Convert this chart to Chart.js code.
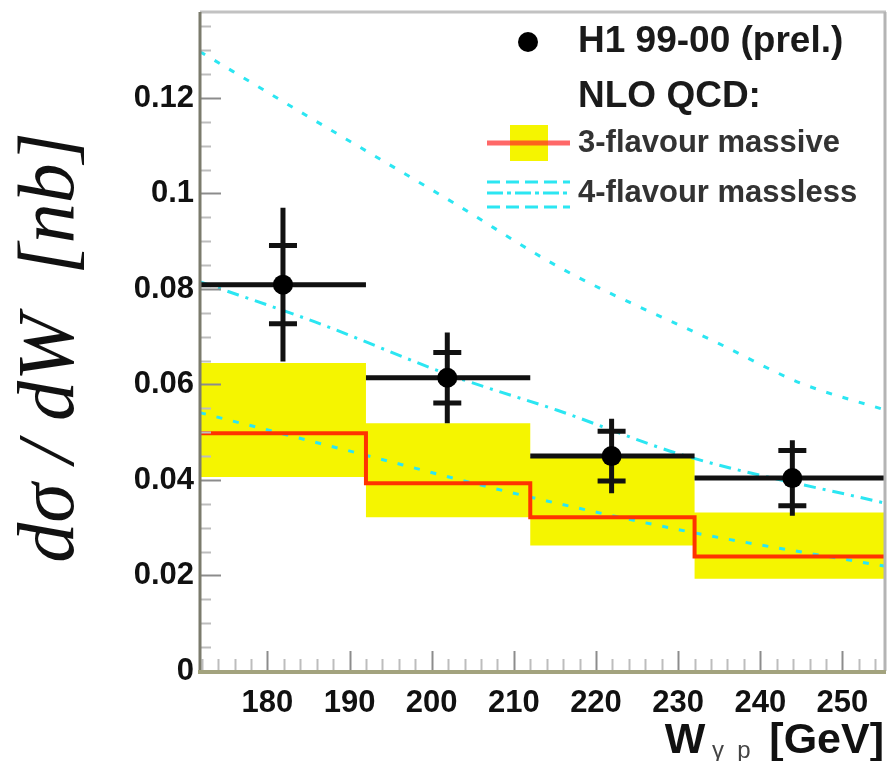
<!DOCTYPE html>
<html>
<head>
<meta charset="utf-8">
<script src="https://cdn.jsdelivr.net/npm/chart.js@4.4.1/dist/chart.umd.min.js"></script>
<style>
    html, body { margin: 0; padding: 0; background: #fff; }
    #wrap { width: 888px; height: 761px; position: relative; }
</style>
</head>
<body>
<div id="wrap"><canvas id="xsec-chart"></canvas></div>
<script>
'use strict';

// W_gamma_p bin edges [GeV] (first / last = axis range)
const bin_edges = [171.8, 192, 212, 232, 255.3];

// H1 99-00 (prel.)
const data_w = [181.9, 201.9, 221.9, 243.9];
const data_xsec = [0.0809, 0.0614, 0.0450, 0.0404];
const data_stat_err = [0.0082, 0.0053, 0.0052, 0.0058];
const data_tot_err = [0.0161, 0.0095, 0.0078, 0.0079];

// NLO QCD 3-flavour massive: central value and band, one per bin
const massive_central = [0.0498, 0.0393, 0.0322, 0.0240];
const massive_high = [0.0645, 0.0519, 0.0448, 0.0332];
const massive_low = [0.0406, 0.0322, 0.0263, 0.0193];

// NLO QCD 4-flavour massless: three curves
const massless_upper_w = [171.8, 184.0, 202.6, 216.0, 234.8, 244.9, 255.3];
const massless_upper = [0.1297, 0.1171, 0.0981, 0.0841, 0.0687, 0.0603, 0.0546];
const massless_mid_w = [171.8, 185.8, 202.5, 215.3, 230.6, 255.3];
const massless_mid = [0.0815, 0.0731, 0.0618, 0.0546, 0.0452, 0.0351];
const massless_low_w = [171.8, 189.7, 209.6, 231.8, 255.3];
const massless_low = [0.0541, 0.0462, 0.0374, 0.0290, 0.0219];

const x_tick_values = [180, 190, 200, 210, 220, 230, 240, 250];
const y_tick_values = [0, 0.02, 0.04, 0.06, 0.08, 0.1, 0.12];
const y_max = 0.138;

const legend_labels = ['H1 99-00 (prel.)', 'NLO QCD:', '3-flavour massive', '4-flavour massless'];

const CYAN = '#2be6f2';
const YELLOW = '#f5f500';
const RED = '#ff3300';

function step_points(values) {
    return bin_edges.map((edge, i) => ({ x: edge, y: values[Math.min(i, values.length - 1)] }));
}

function curve_points(ws, vals) {
    return ws.map((w, i) => ({ x: w, y: vals[i] }));
}

const frame_plugin = {
    id: 'frame_and_ticks',
    afterDatasetsDraw(chart) {
        const { ctx, chartArea: a, scales: { x, y } } = chart;
        ctx.save();

        // error bars for the data
        ctx.strokeStyle = '#111';
        ctx.lineWidth = 5;
        data_w.forEach((w, i) => {
            const px = x.getPixelForValue(w);
            const py = y.getPixelForValue(data_xsec[i]);
            const x_lo = x.getPixelForValue(bin_edges[i]);
            const x_hi = x.getPixelForValue(bin_edges[i + 1]);
            const tot_hi = y.getPixelForValue(data_xsec[i] + data_tot_err[i]);
            const tot_lo = y.getPixelForValue(data_xsec[i] - data_tot_err[i]);
            const st_hi = y.getPixelForValue(data_xsec[i] + data_stat_err[i]);
            const st_lo = y.getPixelForValue(data_xsec[i] - data_stat_err[i]);
            ctx.beginPath();
            ctx.moveTo(x_lo, py); ctx.lineTo(x_hi, py);
            ctx.moveTo(px, tot_hi); ctx.lineTo(px, tot_lo);
            ctx.moveTo(px - 14, st_hi); ctx.lineTo(px + 14, st_hi);
            ctx.moveTo(px - 14, st_lo); ctx.lineTo(px + 14, st_lo);
            ctx.stroke();
            ctx.beginPath();
            ctx.fillStyle = '#000';
            ctx.arc(px, py, 10, 0, Math.PI * 2);
            ctx.fill();
        });

        // inward ticks
        ctx.lineWidth = 2;
        for (let v = 0; v <= y_max + 1e-9; v += 0.005) {
            const major = Math.abs(v / 0.02 - Math.round(v / 0.02)) < 1e-6;
            const py = Math.round(y.getPixelForValue(v)) + 0.5;
            ctx.strokeStyle = major ? '#8c8c8c' : '#bdbdbd';
            ctx.beginPath();
            ctx.moveTo(a.left, py); ctx.lineTo(a.left + (major ? 21 : 11), py);
            ctx.stroke();
        }
        for (let v = 172; v <= 255; v += 2) {
            const major = v % 10 === 0;
            const px = Math.round(x.getPixelForValue(v)) + 0.5;
            ctx.strokeStyle = major ? '#8c8c8c' : '#bdbdbd';
            ctx.beginPath();
            ctx.moveTo(px, a.bottom); ctx.lineTo(px, a.bottom - (major ? 20 : 12));
            ctx.stroke();
        }

        // frame
        ctx.lineWidth = 3;
        ctx.strokeStyle = '#c2c2c2';
        ctx.beginPath(); ctx.moveTo(a.left, a.top); ctx.lineTo(a.right, a.top); ctx.stroke();
        ctx.strokeStyle = '#b4b4b4';
        ctx.beginPath(); ctx.moveTo(a.right - 1, a.top); ctx.lineTo(a.right - 1, a.bottom); ctx.stroke();
        ctx.strokeStyle = '#7b7b6c';
        ctx.beginPath(); ctx.moveTo(a.left, a.top); ctx.lineTo(a.left, a.bottom); ctx.stroke();
        ctx.lineWidth = 4;
        ctx.strokeStyle = '#a3a37e';
        ctx.beginPath(); ctx.moveTo(a.left - 2, a.bottom + 1); ctx.lineTo(a.right, a.bottom + 1); ctx.stroke();

        ctx.restore();
    },
    afterDraw(chart) {
        const { ctx, chartArea: a } = chart;
        ctx.save();

        // y title
        ctx.translate(73, (a.top + a.bottom) / 2 + 6);
        ctx.rotate(-Math.PI / 2);
        ctx.fillStyle = '#111';
        ctx.textAlign = 'center';
        ctx.textBaseline = 'alphabetic';
        ctx.font = 'italic 80px "Liberation Serif"';
        ctx.fillText('dσ / dW  [nb]', 0, 0);
        ctx.setTransform(1, 0, 0, 1, 0, 0);

        // x title, right aligned with the frame
        const parts = [
            { t: 'W', f: 'bold 43px "Liberation Sans"', dy: 0, c: '#111' },
            { t: ' γ  p ', f: '24px "Liberation Sans"', dy: 5, c: '#444' },
            { t: ' [GeV]', f: 'bold 43px "Liberation Sans"', dy: 0, c: '#111' }
        ];
        let total = 0;
        parts.forEach(p => { ctx.font = p.f; p.w = ctx.measureText(p.t).width; total += p.w; });
        let tx = a.right - 2 - total;
        ctx.textBaseline = 'alphabetic';
        ctx.textAlign = 'left';
        parts.forEach(p => {
            ctx.font = p.f;
            ctx.fillStyle = p.c;
            ctx.fillText(p.t, tx, 753 + p.dy);
            tx += p.w;
        });

        // legend
        const sym_l = a.right - 399;
        const sym_r = a.right - 316;
        const text_x = a.right - 308;
        const rows = [a.top + 30, a.top + 85, a.top + 131, a.top + 181];

        ctx.fillStyle = '#000';
        ctx.beginPath();
        ctx.arc(a.right - 358, rows[0], 10, 0, Math.PI * 2);
        ctx.fill();

        ctx.fillStyle = YELLOW;
        ctx.fillRect(a.right - 376, rows[2] - 18, 38, 36);
        ctx.strokeStyle = 'rgba(255, 40, 40, 0.7)';
        ctx.lineWidth = 5;
        ctx.beginPath(); ctx.moveTo(sym_l, rows[2]); ctx.lineTo(sym_r, rows[2]); ctx.stroke();

        ctx.strokeStyle = CYAN;
        ctx.lineWidth = 3;
        [[-11, [13, 6]], [0, [16, 4, 4, 4]], [14, [13, 6]]].forEach(([dy, dash]) => {
            ctx.setLineDash(dash);
            ctx.beginPath(); ctx.moveTo(sym_l, rows[3] + dy); ctx.lineTo(sym_r, rows[3] + dy); ctx.stroke();
        });
        ctx.setLineDash([]);

        ctx.textAlign = 'left';
        ctx.textBaseline = 'middle';
        ctx.fillStyle = '#1a1a1a';
        ctx.font = 'bold 37px "Liberation Sans"';
        ctx.fillText(legend_labels[0], text_x, rows[0]);
        ctx.fillText(legend_labels[1], text_x, rows[1]);
        ctx.fillStyle = '#333';
        ctx.font = 'bold 31px "Liberation Sans"';
        ctx.fillText(legend_labels[2], text_x, rows[2]);
        ctx.fillText(legend_labels[3], text_x, rows[3]);

        ctx.restore();
    }
};

const tick_font = { family: '"Liberation Sans"', size: 31, weight: 'bold' };

function no_label_padding(s) {
    s.paddingTop = 0;
    s.paddingBottom = 0;
    s.paddingLeft = 0;
    s.paddingRight = 0;
}

const config = {
    type: 'line',
    data: {
        datasets: [
            {
                label: 'H1 99-00 (prel.)',
                data: curve_points(data_w, data_xsec),
                showLine: false,
                pointRadius: 0,
                order: 1
            },
            {
                label: '3-flavour massive',
                data: step_points(massive_central),
                stepped: true,
                borderColor: RED,
                borderWidth: 4,
                pointRadius: 0,
                fill: false,
                order: 3
            },
            {
                label: '4-flavour massless upper',
                data: curve_points(massless_upper_w, massless_upper),
                cubicInterpolationMode: 'monotone',
                borderColor: CYAN,
                borderWidth: 3,
                borderDash: [6, 11],
                pointRadius: 0,
                fill: false,
                order: 4
            },
            {
                label: '4-flavour massless',
                data: curve_points(massless_mid_w, massless_mid),
                cubicInterpolationMode: 'monotone',
                borderColor: CYAN,
                borderWidth: 3,
                borderDash: [12, 7, 3, 7],
                pointRadius: 0,
                fill: false,
                order: 4
            },
            {
                label: '4-flavour massless lower',
                data: curve_points(massless_low_w, massless_low),
                cubicInterpolationMode: 'monotone',
                borderColor: CYAN,
                borderWidth: 3,
                borderDash: [6, 11],
                pointRadius: 0,
                fill: false,
                order: 4
            },
            {
                label: 'band high',
                data: step_points(massive_high),
                stepped: true,
                borderColor: 'rgba(0,0,0,0)',
                backgroundColor: YELLOW,
                pointRadius: 0,
                fill: '+1',
                order: 5
            },
            {
                label: 'band low',
                data: step_points(massive_low),
                stepped: true,
                borderColor: 'rgba(0,0,0,0)',
                pointRadius: 0,
                fill: false,
                order: 5
            }
        ]
    },
    options: {
        responsive: true,
        maintainAspectRatio: false,
        animation: false,
        layout: { padding: { top: 12, right: 2, left: 0, bottom: 0 } },
        plugins: {
            legend: { display: false },
            tooltip: { enabled: false }
        },
        scales: {
            x: {
                type: 'linear',
                min: bin_edges[0],
                max: bin_edges[bin_edges.length - 1],
                grid: { display: false, drawTicks: false },
                border: { display: false },
                ticks: {
                    font: tick_font,
                    color: '#111',
                    padding: 14,
                    maxRotation: 0,
                    callback: v => String(v)
                },
                afterBuildTicks: s => { s.ticks = x_tick_values.map(v => ({ value: v })); },
                afterFit: s => { s.height = 90; no_label_padding(s); }
            },
            y: {
                type: 'linear',
                min: 0,
                max: y_max,
                grid: { display: false, drawTicks: false },
                border: { display: false },
                ticks: {
                    font: tick_font,
                    color: '#111',
                    padding: 6,
                    callback: v => String(+v.toFixed(3))
                },
                afterBuildTicks: s => { s.ticks = y_tick_values.map(v => ({ value: v })); },
                afterFit: s => { s.width = 200; no_label_padding(s); }
            }
        }
    },
    plugins: [frame_plugin]
};

const chart = new Chart(document.getElementById('xsec-chart'), config);
</script>
</body>
</html>
